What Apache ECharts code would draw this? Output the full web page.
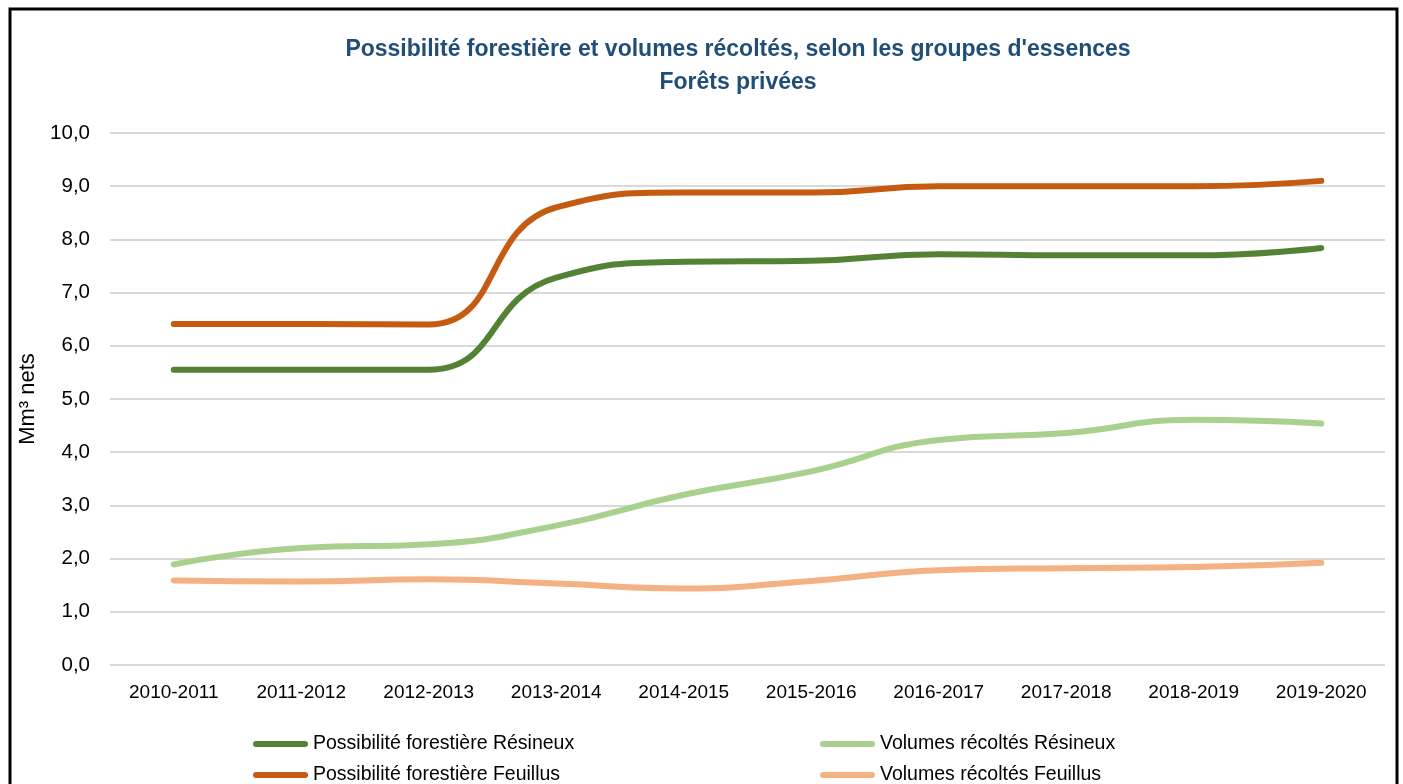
<!DOCTYPE html>
<html>
<head>
<meta charset="utf-8">
<script src="https://cdn.jsdelivr.net/npm/echarts@6/dist/echarts.min.js"></script>
<style>
  html, body { margin: 0; padding: 0; background: #fff; }
  #chart { width: 1403px; height: 784px; }
</style>
</head>
<body>
<div id="chart"></div>
<script>
// Campaign years (x axis)
const categories = ['2010-2011', '2011-2012', '2012-2013', '2013-2014', '2014-2015',
                    '2015-2016', '2016-2017', '2017-2018', '2018-2019', '2019-2020'];

// Millions of net m³
const possibiliteResineux = [5.55, 5.55, 5.55, 7.28, 7.58, 7.60, 7.72, 7.70, 7.70, 7.84];
const possibiliteFeuillus = [6.41, 6.41, 6.40, 8.60, 8.88, 8.88, 9.00, 9.00, 9.00, 9.10];
const volumesResineux     = [1.89, 2.20, 2.27, 2.62, 3.20, 3.64, 4.23, 4.36, 4.61, 4.54];
const volumesFeuillus     = [1.59, 1.57, 1.61, 1.53, 1.44, 1.58, 1.78, 1.82, 1.84, 1.92];

const seriesNames = [
  'Possibilité forestière Résineux',
  'Volumes récoltés Résineux',
  'Possibilité forestière Feuillus',
  'Volumes récoltés Feuillus'
];
const seriesColors = ['#548235', '#A9D18E', '#C55A11', '#F4B183'];
const seriesData = [possibiliteResineux, volumesResineux, possibiliteFeuillus, volumesFeuillus];

const FONT = "'Liberation Sans', Arial, sans-serif";
const legendIcon = 'path://M3 0H52A3 3 0 0 1 52 6H3A3 3 0 0 1 3 0Z';

const chart = echarts.init(document.getElementById('chart'), null, { renderer: 'canvas' });

// Legend laid out as a 2x2 block: one component per entry
const legendSlots = [
  { left: 253, top: 734 },
  { left: 820, top: 734 },
  { left: 253, top: 765 },
  { left: 820, top: 765 }
];
const legends = seriesNames.map((name, i) => ({
  left: legendSlots[i].left,
  top: legendSlots[i].top,
  orient: 'horizontal',
  padding: 0,
  itemWidth: 55,
  itemHeight: 6,
  icon: legendIcon,
  selectedMode: false,
  data: [name],
  textStyle: { fontFamily: FONT, fontSize: 19.5, color: '#000' }
}));

chart.setOption({
  animation: false,
  backgroundColor: '#fff',
  textStyle: { fontFamily: FONT },
  title: {
    text: "Possibilité forestière et volumes récoltés, selon les groupes d'essences\nForêts privées",
    left: 733,
    textAlign: 'center',
    top: 28,
    textStyle: {
      fontFamily: FONT,
      fontSize: 23,
      fontWeight: 'bold',
      color: '#1F4E79',
      lineHeight: 33
    }
  },
  grid: {
    left: 110,
    right: 18,
    top: 133,
    bottom: 119,
    outerBoundsMode: 'none'
  },
  legend: legends,
  xAxis: {
    type: 'category',
    data: categories,
    boundaryGap: true,
    axisLine: { show: false },
    axisTick: { show: false },
    axisLabel: { fontFamily: FONT, fontSize: 19, color: '#000', margin: 18, interval: 0 }
  },
  yAxis: {
    type: 'value',
    min: 0,
    max: 10,
    interval: 1,
    name: 'Mm³ nets',
    nameLocation: 'middle',
    nameGap: 48,
    nameTextStyle: { fontFamily: FONT, fontSize: 22, color: '#000' },
    axisLine: { show: false },
    axisTick: { show: false },
    splitLine: { lineStyle: { color: '#D9D9D9', width: 2 } },
    axisLabel: {
      fontFamily: FONT,
      fontSize: 20.5,
      color: '#000',
      margin: 20,
      formatter: v => v.toFixed(1).replace('.', ',')
    }
  },
  series: seriesNames.map((name, i) => ({
    name: name,
    type: 'line',
    data: seriesData[i],
    smooth: 0.5,
    symbol: 'none',
    color: seriesColors[i],
    itemStyle: { color: seriesColors[i] },
    lineStyle: { color: seriesColors[i], width: 6, cap: 'round', join: 'round' }
  })),
  graphic: [{
    type: 'rect',
    shape: { x: 10, y: 9, width: 1387, height: 800 },
    style: { fill: null, stroke: '#000', lineWidth: 3 },
    silent: true,
    z: 100
  }]
});
</script>
</body>
</html>
